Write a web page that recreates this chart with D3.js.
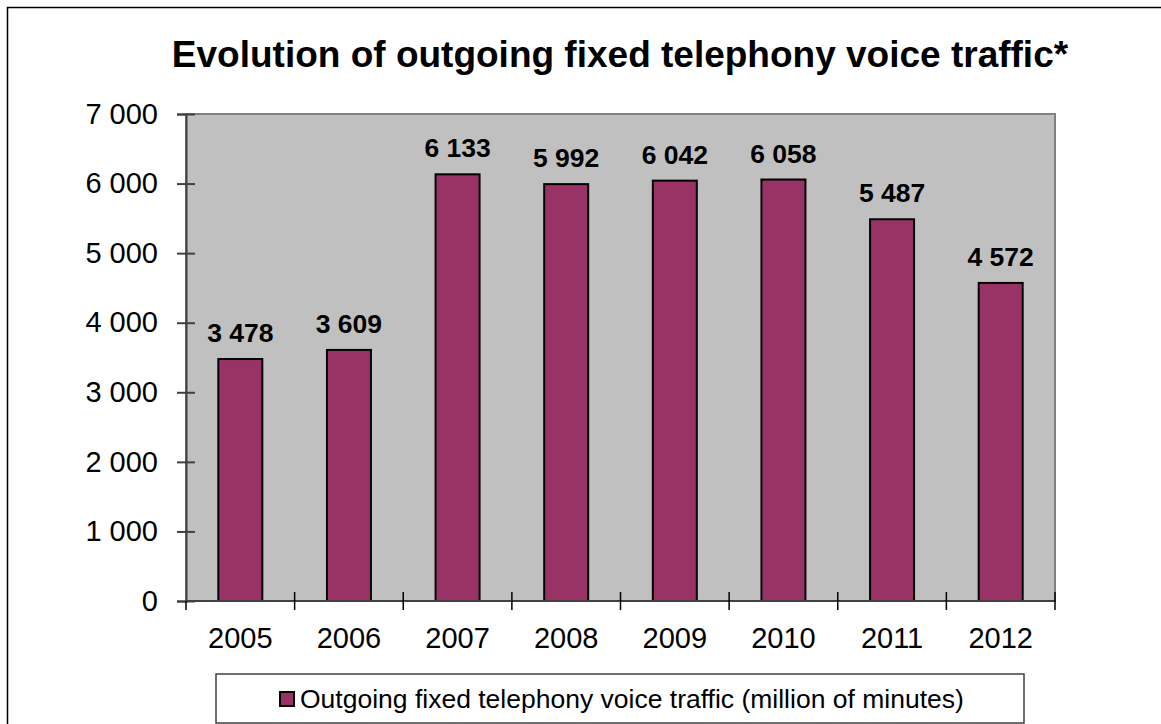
<!DOCTYPE html>
<html>
<head>
<meta charset="utf-8">
<script src="https://cdn.jsdelivr.net/npm/d3@7"></script>
<style>
  html, body { margin: 0; padding: 0; background: #fff; }
  svg text { font-family: Arial, "Liberation Sans", sans-serif; fill: #000; }
</style>
</head>
<body>
<svg id="chart" width="1161" height="724"></svg>
<script>
// chart data
const years = ['2005', '2006', '2007', '2008', '2009', '2010', '2011', '2012'];
const traffic = [3478, 3609, 6133, 5992, 6042, 6058, 5487, 4572];
const yTicks = [0, 1000, 2000, 3000, 4000, 5000, 6000, 7000];
const chartTitle = 'Evolution of outgoing fixed telephony voice traffic*';
const seriesName = 'Outgoing fixed telephony voice traffic (million of minutes)';

const svg = d3.select('#chart');
const plot = {left: 186, right: 1055, top: 114, bottom: 601};

// space as thousands separator
const fmt = d3.formatLocale({decimal: ',', thousands: '\u00a0', grouping: [3], currency: ['', '']}).format(',d');

// outer frame (runs off the right and bottom edges)
svg.append('rect')
  .attr('x', 7.5).attr('y', 7.5)
  .attr('width', 1170).attr('height', 740)
  .attr('fill', 'none').attr('stroke', '#000').attr('stroke-width', 1.5);

svg.append('text')
  .attr('x', 620).attr('y', 67)
  .attr('text-anchor', 'middle')
  .style('font-size', '37px').style('font-weight', 'bold')
  .text(chartTitle);

let x = d3.scaleBand()
  .domain(years)
  .range([plot.left, plot.right])
  .paddingInner(0.595)
  .paddingOuter(0.595 / 2);

let y = d3.scaleLinear()
  .domain([0, 7000])
  .range([plot.bottom, plot.top]);

// plot area
svg.append('rect')
  .attr('x', plot.left).attr('y', plot.top)
  .attr('width', plot.right - plot.left).attr('height', plot.bottom - plot.top)
  .attr('fill', '#c0c0c0').attr('stroke', '#808080').attr('stroke-width', 2);

// bars
svg.append('g').selectAll('rect')
  .data(traffic)
  .join('rect')
    .attr('x', (d, i) => x(years[i]))
    .attr('y', d => y(d))
    .attr('width', x.bandwidth())
    .attr('height', d => y(0) - y(d))
    .attr('fill', '#993366')
    .attr('stroke', '#000').attr('stroke-width', 2);

// value labels
svg.append('g').selectAll('text')
  .data(traffic)
  .join('text')
    .attr('x', (d, i) => x(years[i]) + x.bandwidth() / 2)
    .attr('y', d => y(d) - 17)
    .attr('text-anchor', 'middle')
    .style('font-size', '26.5px').style('font-weight', 'bold')
    .text(d => fmt(d));

// y axis
let yAxis = svg.append('g')
  .attr('transform', 'translate(' + plot.left + ',0)')
  .call(d3.axisLeft(y).tickValues(yTicks).tickFormat(fmt).tickSize(9).tickPadding(19));
yAxis.select('.domain').attr('stroke', '#404040').attr('stroke-width', 2);
yAxis.selectAll('.tick line').attr('x2', 9).attr('x1', -9).attr('stroke', '#404040').attr('stroke-width', 2);
yAxis.selectAll('.tick text').style('font-size', '29px').attr('font-family', null);

// x axis: ticks sit on the band boundaries
let xAxis = svg.append('g')
  .attr('transform', 'translate(0,' + plot.bottom + ')');
xAxis.append('line')
  .attr('x1', plot.left).attr('x2', plot.right)
  .attr('stroke', '#404040').attr('stroke-width', 2);
let step = x.step();
xAxis.selectAll('line.tk')
  .data(d3.range(years.length + 1))
  .join('line')
    .attr('class', 'tk')
    .attr('x1', i => plot.left + i * step).attr('x2', i => plot.left + i * step)
    .attr('y1', i => (i === 0 ? 0 : -9)).attr('y2', 9)
    .attr('stroke', '#000').attr('stroke-width', 1.5);
xAxis.selectAll('text')
  .data(years)
  .join('text')
    .attr('x', d => x(d) + x.bandwidth() / 2)
    .attr('y', 47)
    .attr('text-anchor', 'middle')
    .style('font-size', '29px')
    .text(d => d);

// legend
let legend = svg.append('g');
legend.append('rect')
  .attr('x', 216).attr('y', 674)
  .attr('width', 808).attr('height', 49)
  .attr('fill', '#fff').attr('stroke', '#404040').attr('stroke-width', 1.5);
legend.append('rect')
  .attr('x', 280).attr('y', 692)
  .attr('width', 14).attr('height', 14)
  .attr('fill', '#993366').attr('stroke', '#000').attr('stroke-width', 2);
legend.append('text')
  .attr('x', 300).attr('y', 708)
  .style('font-size', '26.5px')
  .text(seriesName);
</script>
</body>
</html>
